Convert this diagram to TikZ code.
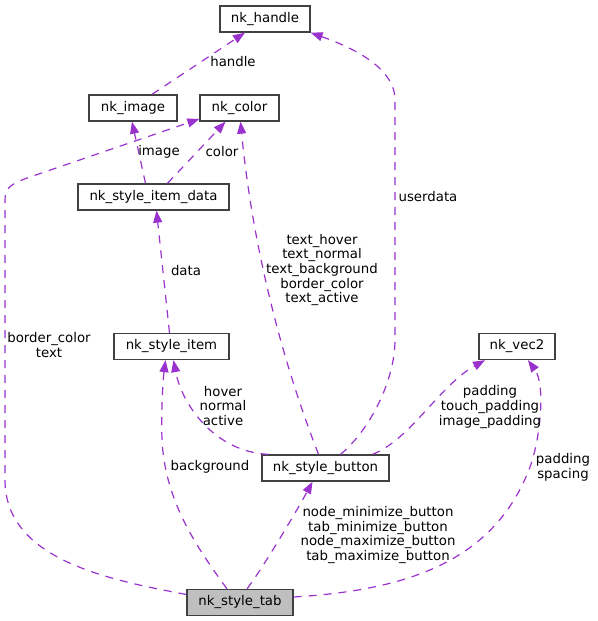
\documentclass[tikz,border=0pt]{standalone}
\usepackage{fontspec}
\setmainfont{DejaVu Sans}
\usetikzlibrary{arrows.meta}
\definecolor{edgec}{HTML}{9A32CD}
\definecolor{boxc}{HTML}{404040}
\definecolor{tabfill}{HTML}{BFBFBF}
\tikzset{
  cls/.style={draw=boxc, line width=1.3pt, fill=white, inner sep=0pt, minimum height=26pt, font=\fontsize{13.3}{14.7}\selectfont},
  lbl/.style={inner sep=0pt, align=center, font=\fontsize{13.3}{14.7}\selectfont},
  rel/.style={draw=edgec, line width=1.2pt, dash pattern=on 8pt off 7pt, -{Triangle[length=12pt,width=9pt,fill=edgec]}},
}
\begin{document}
\begin{tikzpicture}[x=1pt,y=-1pt]
\path[use as bounding box] (0,0) rectangle (597,621);
% classes
\node[cls, minimum width=90pt] (handle) at (265,19) {nk\_handle};
\node[cls, minimum width=88pt] (image) at (133,108) {nk\_image};
\node[cls, minimum width=79pt] (color) at (239.5,108) {nk\_color};
\node[cls, minimum width=151pt] (itemdata) at (153.5,197) {nk\_style\_item\_data};
\node[cls, minimum width=115pt] (item) at (171.5,346.5) {nk\_style\_item};
\node[cls, minimum width=76pt] (vec) at (517,346.5) {nk\_vec2};
\node[cls, minimum width=127pt] (button) at (325.5,468) {nk\_style\_button};
\node[cls, minimum width=106pt, fill=tabfill] (tab) at (240,602.5) {nk\_style\_tab};
% edges
\draw[rel] ([xshift=19pt]image.north) -- ([xshift=-20pt]handle.south);
\draw[rel] ([xshift=-8pt]itemdata.north) -- ([xshift=-1pt]image.south);
\draw[rel] ([xshift=14pt]itemdata.north) -- ([xshift=-14pt]color.south);
\draw[rel] ([xshift=-2pt]item.north) -- ([xshift=3pt]itemdata.south);
\draw[rel] ([xshift=-57pt]button.north) .. controls (215,452) and (182,405) .. ([xshift=2pt]item.south);
\draw[rel] ([xshift=-7pt]button.north) .. controls (276,345) and (251,231) .. ([xshift=1pt]color.south);
\draw[rel] ([xshift=15pt]button.north) .. controls (370,430) and (395,380) .. (395,340) -- (395,100) .. controls (395,65) and (345,45) .. (handle.south east);
\draw[rel] ([xshift=47pt]button.north) .. controls (410,440) and (440,385) .. ([xshift=-32pt]vec.south);
\draw[rel] ([yshift=8pt]tab.west) .. controls (110,580) and (5,560) .. (5,480) -- (5,200) .. controls (5,188) and (10,184) .. (30,177) -- ([yshift=-11pt]color.west);
\draw[rel] ([xshift=-13pt]tab.north) .. controls (195,545) and (165,500) .. (162,440) .. controls (161,410) and (163,380) .. ([xshift=-6pt]item.south);
\draw[rel] ([xshift=7pt]tab.north) .. controls (265,565) and (300,505) .. ([xshift=-13pt]button.south);
\draw[rel] ([yshift=5.5pt]tab.east) .. controls (410,590) and (495,560) .. (530,467) .. controls (540,440) and (546,385) .. ([xshift=11pt]vec.south);
% labels
\node[lbl] (l1) at (233,62) {handle};
\node[lbl] (l2) at (159,152) {image};
\node[lbl] (l3) at (222,152) {color};
\node[lbl] (l4) at (186,271) {data};
\node[lbl] (l5) at (49,345) {border\_color\\text};
\node[lbl] (l6) at (223,406) {hover\\normal\\active};
\node[lbl] (l7) at (322,270) {text\_hover\\text\_normal\\text\_background\\border\_color\\text\_active};
\node[lbl] (l8) at (428,197) {userdata};
\node[lbl] (l9) at (490,407) {padding\\touch\_padding\\image\_padding};
\node[lbl] (l10) at (563,467) {padding\\spacing};
\node[lbl] (l11) at (210,467) {background};
\node[lbl] (l12) at (378,535) {node\_minimize\_button\\tab\_minimize\_button\\node\_maximize\_button\\tab\_maximize\_button};
\end{tikzpicture}
\end{document}
